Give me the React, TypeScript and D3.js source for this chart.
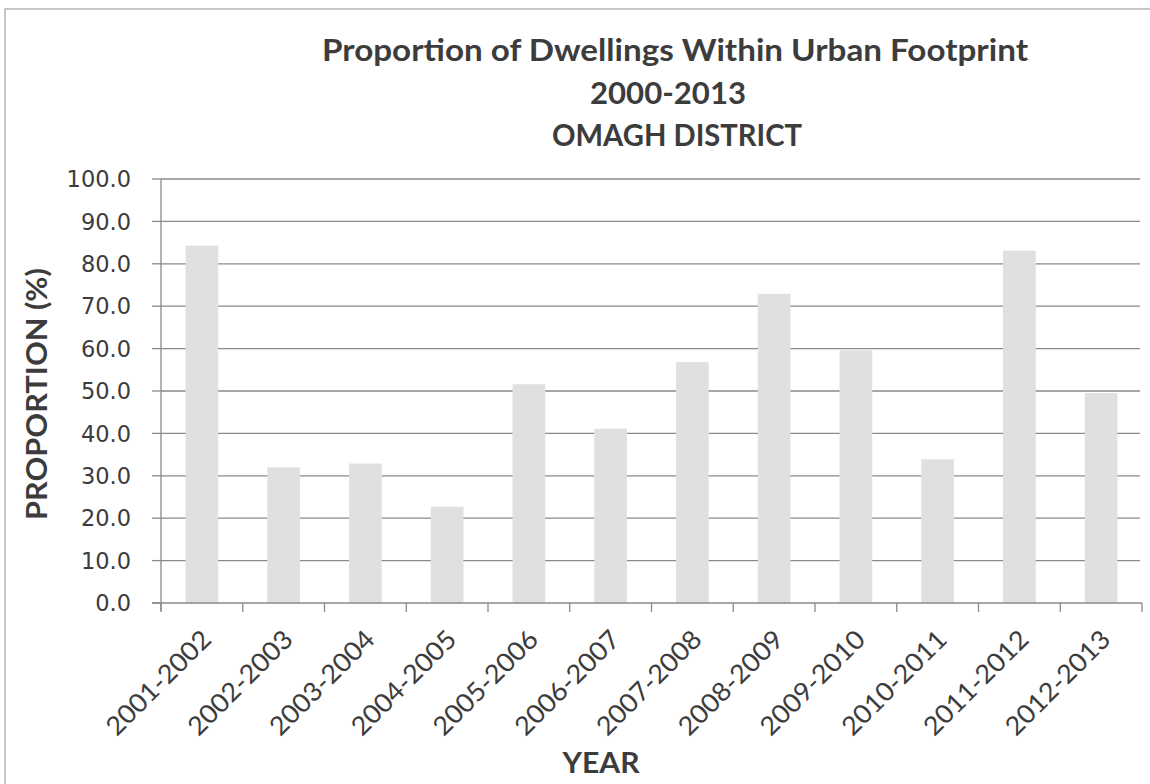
import React, { useEffect, useRef } from "react";
import * as d3 from "d3";

const categories = [
  "2001-2002", "2002-2003", "2003-2004", "2004-2005", "2005-2006", "2006-2007",
  "2007-2008", "2008-2009", "2009-2010", "2010-2011", "2011-2012", "2012-2013",
];
const values = [84.3, 32.0, 32.9, 22.7, 51.6, 41.1, 56.8, 72.9, 59.6, 33.9, 83.1, 49.5];
const yTicks = [0, 10, 20, 30, 40, 50, 60, 70, 80, 90, 100];
const titleLines = ["Proportion of Dwellings Within Urban Footprint", "2000-2013", "OMAGH DISTRICT"];

const W = 1150;
const H = 784;
const M = { left: 161, right: 1142, top: 179, bottom: 603 };
const TEXT = "#3c3c3c";
const GRID = "#8a8a8a";
const FONT = "Lato, 'Open Sans', sans-serif";

export default function App() {
  const ref = useRef<SVGSVGElement | null>(null);

  useEffect(() => {
    const svg = d3.select(ref.current);
    svg.selectAll("*").remove();

    const x = d3.scaleBand<string>().domain(categories).range([M.left, M.right]).paddingInner(0.6).paddingOuter(0.3);
    const band = d3.scaleBand<string>().domain(categories).range([M.left, M.right]);
    const y = d3.scaleLinear().domain([0, 100]).range([M.bottom, M.top]);

    svg.append("rect").attr("width", W).attr("height", H).attr("fill", "#fff");
    // outer frame
    svg.append("rect").attr("x", 5).attr("y", 9).attr("width", W).attr("height", H)
      .attr("fill", "none").attr("stroke", "#b5b5b5").attr("stroke-width", 1.5);

    // gridlines
    svg.append("g").selectAll("line").data(yTicks.filter(t => t > 0)).join("line")
      .attr("x1", M.left).attr("x2", M.right - 2)
      .attr("y1", d => y(d)).attr("y2", d => y(d))
      .attr("stroke", GRID).attr("stroke-width", 1.3);

    // bars
    svg.append("g").selectAll("rect").data(values).join("rect")
      .attr("x", (_, i) => x(categories[i])!)
      .attr("width", x.bandwidth())
      .attr("y", d => y(d))
      .attr("height", d => y(0) - y(d))
      .attr("fill", "#e0e0e0");

    // y axis
    const ya = svg.append("g");
    ya.append("line").attr("x1", M.left).attr("x2", M.left).attr("y1", M.top).attr("y2", M.bottom + 8)
      .attr("stroke", GRID).attr("stroke-width", 1.3);
    ya.selectAll("line.t").data(yTicks).join("line").attr("class", "t")
      .attr("x1", M.left - 9).attr("x2", M.left)
      .attr("y1", d => y(d)).attr("y2", d => y(d))
      .attr("stroke", GRID).attr("stroke-width", 1.3);
    ya.selectAll("text").data(yTicks).join("text")
      .attr("x", 131).attr("y", d => y(d)).attr("dy", "0.36em")
      .attr("text-anchor", "end")
      .attr("font-family", "'DejaVu Sans', sans-serif").attr("font-size", 22.5)
      .attr("fill", TEXT)
      .text(d => d3.format(".1f")(d));

    // x axis
    const xa = svg.append("g");
    xa.append("line").attr("x1", M.left - 9).attr("x2", M.right).attr("y1", M.bottom).attr("y2", M.bottom)
      .attr("stroke", GRID).attr("stroke-width", 1.3);
    const edges = categories.map(c => band(c)!).concat([M.right]);
    xa.selectAll("line.t").data(edges).join("line").attr("class", "t")
      .attr("x1", d => d).attr("x2", d => d).attr("y1", M.bottom).attr("y2", M.bottom + 9)
      .attr("stroke", GRID).attr("stroke-width", 1.3);
    xa.selectAll("text").data(categories).join("text")
      .attr("transform", c => `translate(${band(c)! + band.bandwidth() / 2 + 11},${M.bottom + 38}) rotate(-45)`)
      .attr("text-anchor", "end")
      .attr("font-family", FONT).attr("font-size", 26)
      .attr("fill", TEXT)
      .attr("textLength", 136).attr("lengthAdjust", "spacingAndGlyphs")
      .text(c => c);

    // titles
    const tl = [
      { t: titleLines[0], y: 61, x: 675, len: 706 },
      { t: titleLines[1], y: 104, x: 668, len: 156 },
      { t: titleLines[2], y: 146, x: 677, len: 250 },
    ];
    svg.append("g").selectAll("text").data(tl).join("text")
      .attr("x", d => d.x).attr("y", d => d.y).attr("text-anchor", "middle")
      .attr("font-family", FONT).attr("font-weight", "bold").attr("font-size", 30)
      .attr("fill", TEXT)
      .attr("textLength", d => d.len).attr("lengthAdjust", "spacingAndGlyphs")
      .text(d => d.t);

    // axis titles
    svg.append("text")
      .attr("transform", "translate(47,394) rotate(-90)")
      .attr("text-anchor", "middle")
      .attr("font-family", FONT).attr("font-weight", "bold").attr("font-size", 29)
      .attr("fill", TEXT)
      .attr("textLength", 252).attr("lengthAdjust", "spacingAndGlyphs")
      .text("PROPORTION (%)");
    svg.append("text")
      .attr("x", 601).attr("y", 773).attr("text-anchor", "middle")
      .attr("font-family", FONT).attr("font-weight", "bold").attr("font-size", 29)
      .attr("fill", TEXT)
      .attr("textLength", 77).attr("lengthAdjust", "spacingAndGlyphs")
      .text("YEAR");
  }, []);

  return (
    <svg ref={ref} width={W} height={H}
      style={{ position: "absolute", left: 0, top: 0, display: "block" }} />
  );
}
